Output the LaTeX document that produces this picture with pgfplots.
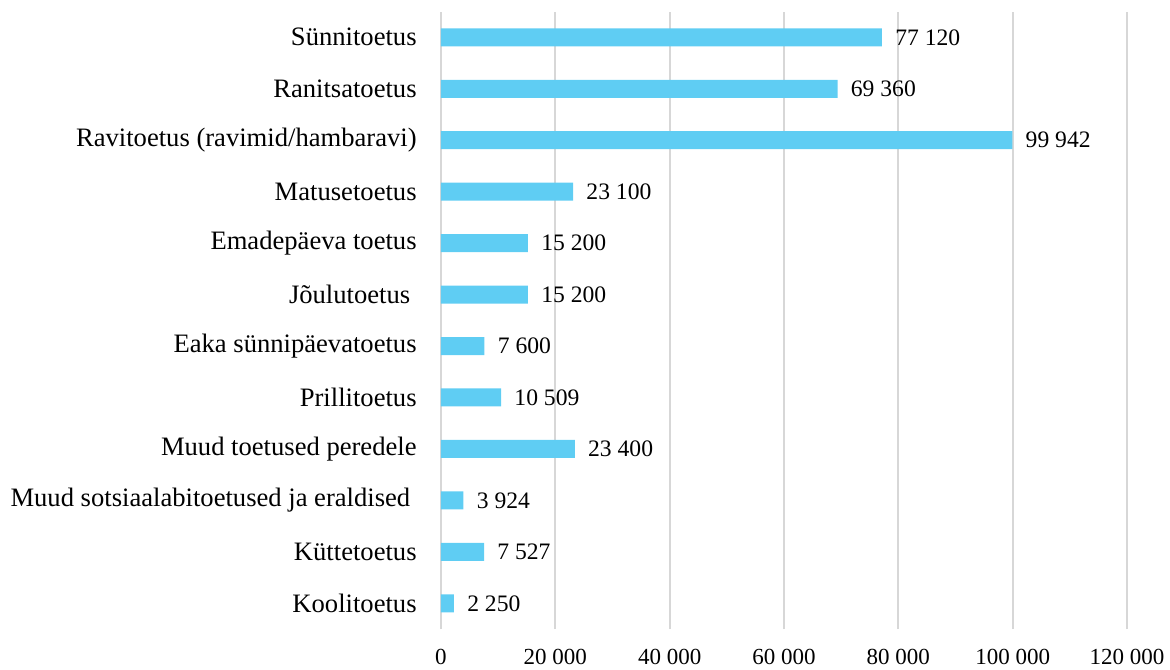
\documentclass[border=0pt]{standalone}
\usepackage{fontspec}
\setmainfont{Liberation Serif}
\usepackage{pgfplots}
\pgfplotsset{compat=1.18}
\definecolor{barblue}{RGB}{95,205,243}
\definecolor{gridgray}{RGB}{215,215,215}
\begin{document}
\begin{tikzpicture}
\begin{axis}[
  scale only axis,
  width=343pt, height=308.7pt,
  xbar, bar width=9pt,
  xmin=0, xmax=120000,
  ymin=-0.5, ymax=11.5,
  xtick={0,20000,...,120000},
  ytick={0,...,11},
  yticklabels={Koolitoetus, Küttetoetus, {Muud sotsiaalabitoetused ja eraldised\kern3.2pt}, Muud toetused peredele, Prillitoetus, Eaka sünnipäevatoetus, {Jõulutoetus\kern3.2pt}, Emadepäeva toetus, Matusetoetus, Ravitoetus (ravimid/hambaravi), Ranitsatoetus, Sünnitoetus},
  xmajorgrids, ymajorgrids=false,
  grid style={gridgray, line width=0.9pt},
  axis line style={draw=none},
  major tick length=0pt,
  scaled x ticks=false,
  /pgf/number format/.cd, 1000 sep={\ }, fixed, precision=0, assume math mode=true,
  /pgfplots/.cd,
  xticklabel style={font=\fontsize{11.5}{13}\selectfont, anchor=center, yshift=-14pt},
  yticklabel style={font=\fontsize{13.3}{15}\selectfont, anchor=east, inner sep=0pt, xshift=-12pt},
  nodes near coords,
  every node near coord/.append style={font=\fontsize{11.8}{13}\selectfont, anchor=west, inner sep=0pt, xshift=6.5pt, text=black},
]
\addplot[fill=barblue, draw=none] coordinates {
(2250,0) (7527,1) (3924,2) (23400,3) (10509,4) (7600,5) (15200,6) (15200,7) (23100,8) (99942,9) (69360,10) (77120,11)
};
\end{axis}
\pgfresetboundingbox
\path[use as bounding box] (-220.5pt,-20pt) rectangle (364.5pt,314.5pt);
\end{tikzpicture}
\end{document}
